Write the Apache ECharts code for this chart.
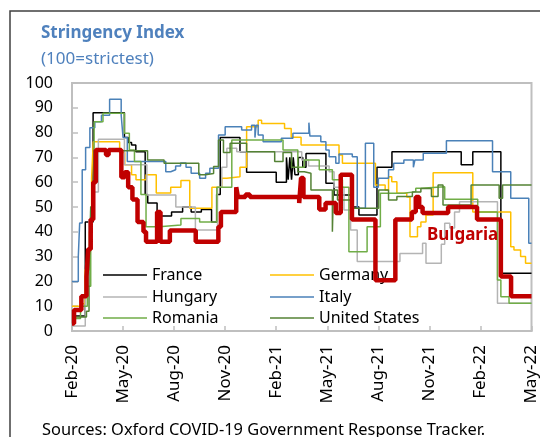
<!DOCTYPE html>
<html>
<head>
<meta charset="utf-8">
<script src="https://cdn.jsdelivr.net/npm/echarts@6/dist/echarts.min.js"></script>
<style>
  html, body { margin: 0; padding: 0; background: #fff; }
  #chart { width: 540px; height: 437px; }
</style>
</head>
<body>
<div id="chart"></div>
<script>
// x = months since 1 Feb 2020, y = stringency index; each point starts a new step
const tickLabels = ['Feb-20', 'May-20', 'Aug-20', 'Nov-20', 'Feb-21', 'May-21', 'Aug-21', 'Nov-21', 'Feb-22', 'May-22']

const france = [[0,6],[0.78,44],[1.24,88],[3.08,78],[3.3,76],[3.5,75],[3.75,72.3],[4.3,55],[4.45,51.6],[5.0,46.4],[5.85,48],[6.5,50],[7.0,48],[7.6,49],[8.2,44],[8.5,55],[8.71,78],[9.87,72.3],[10.26,64],[12.0,60],[12.6,70],[12.7,61],[12.8,70],[12.9,61],[13.0,70],[13.1,63],[13.3,70],[13.56,66],[13.75,71.6],[14.92,59.6],[15.4,54.8],[16.47,50],[16.86,46.8],[17.92,66],[18.8,72.3],[22.87,67],[23.55,72.3],[25.2,23.3],[27,23.3]]
const germany = [[0,10],[0.5,11],[0.75,24.6],[1.0,40],[1.15,61.6],[1.25,76.3],[2.8,72],[3.1,67],[3.5,63],[3.76,61],[4.35,63],[4.95,55.6],[5.8,58],[6.4,60.7],[6.92,49.5],[8.22,58],[8.8,61.6],[9.1,62.2],[9.87,66],[10.26,82.4],[10.94,85],[11.14,83.7],[12.49,81.7],[12.88,78.1],[13.46,75],[15.69,71],[15.89,67.6],[17.83,58.9],[18.4,56.9],[18.6,62.2],[18.79,60.2],[19.09,55.5],[19.67,54],[19.86,38],[20.3,42],[20.5,44],[20.8,46.8],[21.22,63.8],[23.55,48],[25.78,34],[25.97,32.7],[26.36,30],[26.65,27.3],[27,27.3]]
const hungary = [[0,2],[0.78,25],[1.0,45],[1.3,56],[1.55,77.3],[3.08,67],[4.4,54.8],[6.1,50],[7.25,40.7],[8.55,58],[8.8,66],[9.1,73.7],[9.68,72.3],[13.5,69],[13.9,66.5],[15.11,64.2],[15.4,58],[15.98,48.8],[16.37,40.7],[16.76,28],[19.27,31.3],[20.6,35.4],[20.8,27.3],[21.7,35],[21.9,43.4],[22.2,41.5],[22.48,48],[22.77,52.1],[25.0,11.2],[27,11.2]]
const italy = [[0,20],[0.37,30],[0.45,43.5],[0.6,65],[0.8,74],[1.05,82],[1.34,84.4],[1.73,87],[2.21,93.4],[2.89,87],[3.0,78],[3.25,68.3],[5.51,64.2],[5.8,65],[6.09,66.5],[6.38,67.7],[6.7,66],[7.0,63.6],[7.5,61.6],[7.85,63.6],[8.1,65.6],[8.61,79],[9.0,82.4],[9.97,81],[10.55,83],[10.75,78],[10.82,83],[10.94,79],[11.23,76.3],[12.3,77.7],[12.98,79.7],[13.92,84],[13.98,78.6],[14.62,76.3],[14.92,73],[15.11,70.3],[15.5,67.6],[15.69,71.4],[16.47,70.3],[16.76,49.5],[17.24,75.7],[17.73,58],[18.0,61.6],[18.6,65],[18.9,67.6],[19.5,69],[20.06,66],[20.15,69],[20.64,71.7],[22.0,76.7],[24.71,64.2],[25.78,53.5],[26.84,35.4],[27,35.4]]
const romania = [[0,5],[0.5,10],[0.9,18],[1.1,50],[1.3,84.4],[1.82,87.8],[3.08,79.7],[3.37,73],[3.67,68.3],[4.05,55],[4.35,42],[5.12,42.7],[6.4,45.4],[7.5,44],[8.51,58],[9.39,77],[12.4,73],[13.27,66],[13.65,69],[14.53,65],[15.3,61],[15.89,58],[16.27,32],[17.34,42],[18.12,55.5],[19.5,56.2],[20.2,57.6],[20.5,58.2],[21.9,53.1],[23.84,48],[25.0,20.6],[25.2,13.8],[25.68,11.2],[27,11.2]]
const unitedStates = [[0,5.6],[0.85,8],[1.0,25],[1.1,50],[1.3,72.7],[4.44,69],[5.41,67.6],[7.45,63],[7.84,63.5],[8.32,66.3],[8.61,77],[8.9,72],[9.29,75.7],[10.26,72.3],[11.91,68.3],[12.4,72],[12.9,66],[13.27,64.2],[13.65,63.6],[14.04,56.9],[15.3,40],[15.36,56.9],[15.6,52.8],[16.37,49.5],[18.02,56.9],[18.6,52.8],[19.09,54.2],[20.0,56],[20.5,57.5],[21.12,54.2],[21.51,58.9],[21.8,50.8],[23.45,58.9],[25.1,53.5],[25.3,58.9],[27,58.9]]
const bulgaria = [[0,3],[0.12,8.5],[0.55,14],[0.85,22],[0.95,33],[1.1,45],[1.25,60],[1.4,73],[2.0,71],[2.15,73],[2.9,62],[3.1,64],[3.3,58],[3.55,53],[3.85,44],[4.2,40],[4.35,36],[5.0,48],[5.2,36],[5.75,40.5],[7.27,36],[8.6,42],[8.75,48],[9.65,58],[9.75,54],[10.2,55],[10.45,54],[13.35,51.6],[13.46,61.7],[13.6,54],[14.53,49],[14.9,51.6],[15.5,47.6],[15.79,63],[16.45,45],[17.83,20.5],[19.0,45],[19.97,48],[20.2,54],[20.4,50],[20.6,47.6],[22.1,50],[23.8,45],[25.2,22],[25.8,14],[27,14]]

const font = 'Noto Sans'
const chart = echarts.init(document.getElementById('chart'))

function stepLine(name, data, color, width, z) {
  return {
    name: name,
    type: 'line',
    step: 'end',
    data: data,
    symbol: 'none',
    z: z,
    animation: false,
    lineStyle: { color: color, width: width },
    itemStyle: { color: color }
  }
}

function legendAt(name, left, top) {
  return {
    data: [name],
    left: left,
    top: top,
    icon: 'rect',
    itemWidth: 44,
    itemHeight: 1.5,
    padding: 0,
    textStyle: { fontFamily: font, fontSize: 16, color: '#000' }
  }
}

chart.setOption({
  backgroundColor: '#fff',
  title: {
    text: 'Stringency Index',
    subtext: '(100=strictest)',
    left: 41,
    top: 25,
    padding: 0,
    itemGap: 9,
    textStyle: { fontFamily: font, fontSize: 17, fontWeight: 'bold', color: '#4f81bd' },
    subtextStyle: { fontFamily: font, fontSize: 17, color: '#4f81bd' }
  },
  legend: [
    legendAt('France', 103, 267),
    legendAt('Germany', 270, 267),
    legendAt('Hungary', 103, 289),
    legendAt('Italy', 270, 289),
    legendAt('Romania', 103, 310),
    legendAt('United States', 270, 310)
  ],
  grid: {
    left: 72, right: 4, top: 83, bottom: 106,
    show: true, borderColor: '#bfbfbf', borderWidth: 2
  },
  xAxis: {
    type: 'value',
    min: 0,
    max: 27,
    interval: 3,
    splitLine: { show: false },
    axisLine: { lineStyle: { color: '#bfbfbf', width: 2 } },
    axisTick: { inside: true, length: 5, lineStyle: { color: '#bfbfbf', width: 1.5 } },
    axisLabel: {
      rotate: 90,
      margin: 14,
      fontFamily: font,
      fontSize: 17,
      color: '#000',
      formatter: v => tickLabels[Math.round(v / 3)]
    }
  },
  yAxis: {
    type: 'value',
    min: 0,
    max: 100,
    interval: 10,
    splitLine: { show: false },
    axisLine: { show: true, lineStyle: { color: '#bfbfbf', width: 2 } },
    axisTick: { show: true, inside: true, length: 6, lineStyle: { color: '#bfbfbf', width: 1.5 } },
    axisLabel: { margin: 19, fontFamily: font, fontSize: 16, color: '#000' }
  },
  graphic: [
    {
      type: 'rect',
      shape: { x: 10, y: 11, width: 600, height: 500 },
      style: { fill: 'none', stroke: '#404040', lineWidth: 1.5 },
      silent: true
    },
    {
      type: 'text',
      left: 42,
      top: 422,
      style: { text: 'Sources: Oxford COVID-19 Government Response Tracker.', font: '16.4px "Noto Sans"', fill: '#000' }
    },
    {
      type: 'text',
      left: 427,
      top: 227,
      z: 10,
      style: { text: 'Bulgaria', font: 'bold 17px "Noto Sans"', fill: '#c00000' }
    }
  ],
  series: [
    stepLine('France', france, '#000000', 1.5, 2),
    stepLine('Germany', germany, '#ffc000', 1.5, 2),
    stepLine('Hungary', hungary, '#b4b4b4', 1.5, 2),
    stepLine('Italy', italy, '#4a81b8', 1.5, 2),
    stepLine('Romania', romania, '#70ad47', 1.5, 2),
    stepLine('United States', unitedStates, '#548235', 1.5, 2),
    stepLine('Bulgaria', bulgaria, '#c00000', 4.5, 5)
  ]
})
</script>
</body>
</html>
